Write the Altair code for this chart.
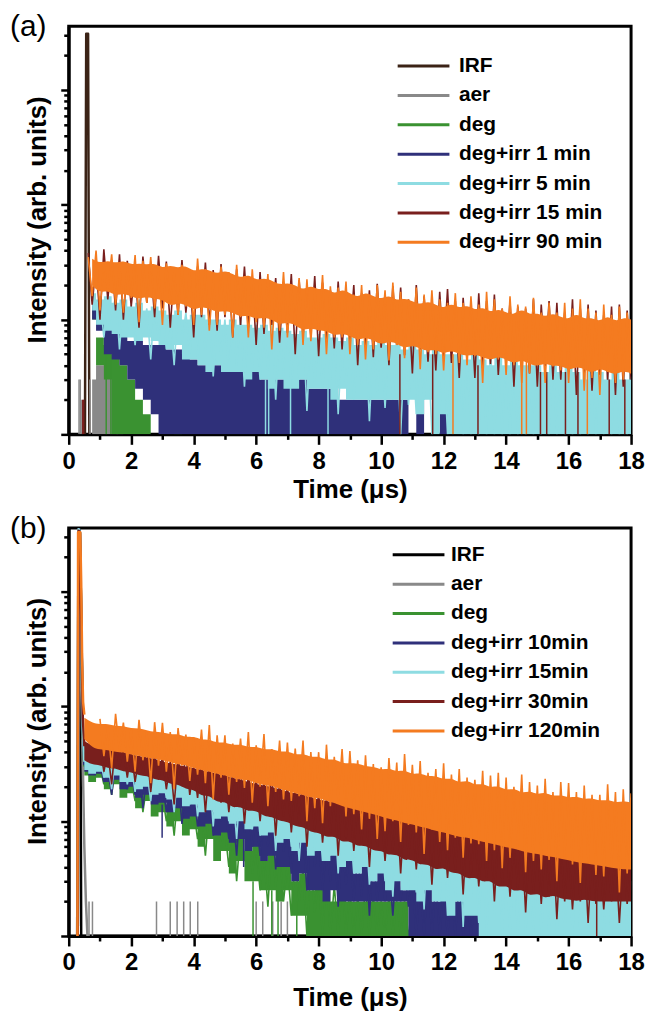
import altair as alt
import pandas as pd

# coarse time grid (µs) for the envelope bands
T = [0.5, 0.75, 1.0, 1.25, 1.5, 1.75, 2.0, 2.25, 2.5, 2.75,
     3.0, 3.25, 3.5, 3.75, 4.0, 4.25, 4.5, 4.75, 5.0, 5.25,
     5.5, 5.75, 6.0, 6.25, 6.5, 6.75, 7.0, 7.25, 7.5, 7.75,
     8.0, 8.25, 8.5, 8.75, 9.0, 9.25, 9.5, 9.75, 10.0, 10.25,
     10.5, 10.75, 11.0, 11.25, 11.5, 11.75, 12.0, 12.25, 12.5, 12.75,
     13.0, 13.25, 13.5, 13.75, 14.0, 14.25, 14.5, 14.75, 15.0, 15.25,
     15.5, 15.75, 16.0, 16.25, 16.5, 16.75, 17.0, 17.25, 17.5, 17.75,
     18.0]

# fine time grid (µs) for the noisy traces
T2 = [0.5, 0.625, 0.75, 0.875, 1.0, 1.125, 1.25, 1.375, 1.5, 1.625, 1.75, 1.875,
      2.0, 2.125, 2.25, 2.375, 2.5, 2.625, 2.75, 2.875, 3.0, 3.125, 3.25, 3.375,
      3.5, 3.625, 3.75, 3.875, 4.0, 4.125, 4.25, 4.375, 4.5, 4.625, 4.75, 4.875,
      5.0, 5.125, 5.25, 5.375, 5.5, 5.625, 5.75, 5.875, 6.0, 6.125, 6.25, 6.375,
      6.5, 6.625, 6.75, 6.875, 7.0, 7.125, 7.25, 7.375, 7.5, 7.625, 7.75, 7.875,
      8.0, 8.125, 8.25, 8.375, 8.5, 8.625, 8.75, 8.875, 9.0, 9.125, 9.25, 9.375,
      9.5, 9.625, 9.75, 9.875, 10.0, 10.125, 10.25, 10.375, 10.5, 10.625, 10.75, 10.875,
      11.0, 11.125, 11.25, 11.375, 11.5, 11.625, 11.75, 11.875, 12.0, 12.125, 12.25, 12.375,
      12.5, 12.625, 12.75, 12.875, 13.0, 13.125, 13.25, 13.375, 13.5, 13.625, 13.75, 13.875,
      14.0, 14.125, 14.25, 14.375, 14.5, 14.625, 14.75, 14.875, 15.0, 15.125, 15.25, 15.375,
      15.5, 15.625, 15.75, 15.875, 16.0, 16.125, 16.25, 16.375, 16.5, 16.625, 16.75, 16.875,
      17.0, 17.125, 17.25, 17.375, 17.5, 17.625, 17.75, 17.875, 18.0]

# ---------------- panel (a) ----------------
A_NAMES = ["IRF", "aer", "deg", "deg+irr 1 min", "deg+irr 5 min", "deg+irr 15 min", "deg+irr 90 min"]
A_COLORS = ["#3b2316", "#898989", "#3a9231", "#2f307a", "#8edce2", "#791f1d", "#f47b20"]

a_irf_t = [0.52, 0.56, 0.62, 0.66]
a_irf_v = [1, 3100, 3100, 1]

a_aer_start = 1
a_aer_hi = [3, 4, 4.5, 5, 2]
a_aer_lo = [1, 1, 1, 1, 1]

a_deg_start = 1
a_deg_hi = [13, 7, 6, 5, 4, 3, 2, 1.5, 1, 1, 1, 2, 1, 1, 1]
a_deg_lo = [10, 4, 3, 1, 1, 1, 1, 1, 1, 1, 1, 1, 1, 1, 1]

a_1_start = 1
a_1_hi = [14, 12, 12, 11, 8, 6.5, 6.5, 6, 6,
          6, 5.5, 5.5, 5, 4.5, 4, 4, 4, 4, 3.5,
          3.5, 3.5, 3.5, 3, 3, 3, 3, 3, 3, 2.5,
          2.5, 2.5, 2.5, 2, 2, 2, 2, 2, 2, 2,
          2, 2, 1, 2, 1, 1, 2, 1, 1, 2]
a_1_lo = [10, 8, 5, 4.5, 4, 3, 2.5, 2, 1.5,
          1, 1, 1, 1, 1, 1, 1, 1, 1, 1,
          1, 1, 1, 1, 1, 1, 1, 1, 1, 1,
          1, 1, 1, 1, 1, 1, 1, 1, 1, 1,
          1, 1, 1, 1, 1, 1, 1, 1, 1, 1]

a_5_start = 1
a_5_hi = [17, 15, 16, 14, 15, 13, 14, 12, 13,
          12, 11, 12, 10, 11, 11, 10, 10, 9, 10,
          9, 9, 8.5, 9, 8, 8.5, 8, 7.5, 8, 7,
          7, 7.5, 7, 6.5, 7, 6, 6.5, 6, 6.5, 6,
          6, 5.5, 6, 5.5, 5, 5.5, 5, 5, 5, 4.5,
          5, 4.5, 4, 5, 4, 4.5, 4, 4, 4, 3.5,
          4, 3.5, 4, 3.5, 3, 4, 3.5, 3, 3.5, 3,
          3]
a_5_lo = [12, 9, 8, 7.5, 7, 7, 6.5, 7, 6.5,
          6, 5.5, 6, 4.5, 4.5, 4, 3.5, 4, 3.5, 3.5,
          3.5, 3, 3.5, 3, 2.5, 3, 2.5, 2.5, 3, 2.5,
          2.5, 2.5, 2, 2.5, 2, 2, 2, 2, 2, 2,
          2, 2, 2, 1.5, 2, 1, 1.5, 1, 1, 1,
          1, 1, 1, 1, 1, 1, 1, 1, 1, 1,
          1, 1, 1, 1, 1, 1, 1, 1, 1, 1,
          1]

a_90_start = 1
a_90_hi = [34, 31, 33, 31, 33, 30, 31, 30, 31,
           28, 30, 28, 30, 26, 28, 27, 25, 27, 25,
           23, 25, 22, 23, 22, 20, 21, 20, 18, 20,
           18, 19, 16.5, 18.5, 17, 15.5, 17.5, 16, 15, 16.5,
           14.5, 15.5, 14.5, 13.5, 14.5, 13.5, 12.5, 14, 12.5, 13.5,
           12, 13, 11.5, 12.5, 11.5, 11, 12.5, 11, 11.5, 10.5,
           11.5, 10.5, 10, 11.5, 10, 10.5, 9.5, 11, 9.5, 10.5,
           10]
a_90_lo = [20, 17, 18, 16, 17, 16, 15, 16, 15,
           15, 13, 14, 13.5, 12, 13, 12.5, 11.5, 12, 11.5,
           10.5, 11, 10, 10.5, 10, 9, 9.5, 9, 8, 8.5,
           8, 8, 7.2, 7.6, 7.2, 6.6, 7, 6.6, 6, 6.5,
           6.2, 5.6, 6, 5.6, 5.3, 5.5, 5, 5.4, 5, 4.8,
           5, 4.7, 4.4, 4.8, 4.5, 4.1, 4.5, 4.1, 3.9, 4.2,
           3.9, 4, 3.6, 3.9, 3.7, 3.4, 3.8, 3.5, 3.3, 3.6,
           3.4]

# noisy traces on the fine grid (start index into T2)
a_5_zs = 4
a_5_z = [16, 7, 14, 9, 17, 5.5, 15, 8,
         13.5, 6, 15, 7.5, 12.5, 4.5, 14, 6.5,
         12, 5.5, 11, 4, 13, 6.5, 11.5, 5,
         11, 4.5, 9.5, 5.5, 12, 3.2, 10, 4.8,
         10, 3.5, 9, 4, 11, 2.6, 9.5, 3.8,
         9, 3, 8, 3.5, 10, 2, 8.5, 3.2,
         8.5, 2.6, 7.5, 3, 9, 1.6, 8, 2.8,
         7.5, 2.5, 7, 3, 8, 1.5, 7, 2.6,
         7, 2, 6.5, 2.5, 7.5, 1.3, 6.5, 2.2,
         6.5, 1.7, 6, 2, 7, 1, 6, 1.8,
         6, 1.5, 5.5, 2, 6.5, 1, 5.5, 1.6,
         5.5, 1, 5, 1.3, 6, 1, 5, 1,
         5, 1, 4.5, 1, 5.5, 1, 4.5, 1,
         4.5, 1, 4, 1, 5, 1, 4, 1,
         4.2, 1, 3.8, 1, 4.6, 1, 4, 1,
         4, 1, 3.6, 1, 4.4, 1, 3.8, 1,
         3.8, 1, 3.4, 1, 4, 1, 3.5, 1,
         3.2]
a_15_zs = 1
a_15_z = [38, 13.5, 31, 10, 41, 15, 33, 12,
          37, 10, 32.5, 13, 28, 8.5, 35.5, 14,
          29, 10.5, 36, 12.5, 32, 8.5, 27.5, 11,
          33, 11.5, 25, 7, 29, 10.5, 31.5, 9,
          27, 8, 30.5, 10.5, 24, 7, 27.5, 9,
          29, 8.5, 23, 6, 26, 7.5, 22, 9,
          23, 6.3, 20, 7.7, 25, 5, 22, 7.2,
          19.5, 7.2, 24, 4.8, 21, 6.4, 18, 5.6,
          21.5, 5.5, 18, 6.6, 20, 4, 17, 5.8,
          18, 4.7, 20.5, 5.7, 16, 4, 19.5, 6,
          19, 4.9, 15, 3.4, 20, 5.5, 16, 4.3,
          15, 3.6, 17.5, 4.8, 18.5, 4.2, 14.5, 3.1,
          15.5, 4.6, 14, 3.1, 17, 3.8, 14.5, 4.1,
          16.5, 3.3, 12.5, 4, 14.5, 2.6, 13, 4.2,
          12.5, 3.4, 15, 2.6, 13.5, 3.9, 14.5, 3,
          14, 3, 11.5, 3.6, 15, 2.2, 12.5, 3.4,
          13.5, 2.4, 12, 3.3, 11, 3, 13, 2.2,
          13.5, 2.6, 12, 3]
a_90_zs = 1
a_90_z = [35, 16, 40, 12, 31, 18, 37, 13.5,
          31, 11.5, 28.5, 15.5, 36.5, 9.5, 32.5, 14,
          35, 12.5, 28, 9, 31, 14, 26, 11,
          30, 13, 26, 9, 34, 11, 27.5, 8,
          23, 9, 29, 11, 26, 7, 30, 10.5,
          24, 7, 27.5, 9.5, 21.5, 8.5, 25, 5.5,
          21, 8, 26, 7, 20, 9, 23, 6,
          22.5, 6.5, 18.5, 8, 24.5, 5, 19.5, 7,
          19, 7, 21.5, 5, 16.5, 6, 20, 4.5,
          16, 5.5, 20, 6.5, 18, 4.4, 21, 6,
          17.5, 4.6, 15, 6, 19, 3.7, 16.5, 5.2,
          18, 5, 15, 3.6, 14, 5.5, 17, 4.2,
          14, 4, 16, 4.8, 13.5, 2.8, 17.5, 4.6,
          15, 4.5, 12.5, 3.3, 16, 4, 13.5, 2.8,
          13, 3.4, 15.5, 4.3, 11.5, 2.8, 14, 3.9,
          11.5, 3.6, 14, 2.8, 12.5, 4, 15, 2.4,
          12.5, 3.1, 11.5, 2.2, 13.5, 3.5, 11, 2.8,
          13, 3, 11.5, 3.4]

# isolated single-channel spikes: (time, bottom, top)
a_spk_aer = [(0.33, 1, 3), (0.37, 1, 3), (0.42, 1, 2), (0.68, 1, 3), (1.55, 1, 3)]
a_spk_deg = [(1.2, 1, 6), (1.35, 1, 5)]
a_spk_5 = [(6.3, 1, 3), (6.4, 1, 3), (7.1, 1, 3), (8.3, 1, 3)]
a_spk_15 = [(0.45, 1, 2), (0.48, 1, 2), (10.6, 1, 5), (11.65, 1, 5),
            (13.1, 1, 4), (15.1, 1, 3.5), (15.3, 1, 3.5), (15.9, 1, 3.5),
            (16.3, 1, 3.5), (17.3, 1, 3), (17.8, 1, 3)]
a_spk_90 = [(12.3, 1, 5), (14.5, 1, 4.5), (14.65, 1, 4.5), (16.6, 1, 4)]

# ---------------- panel (b) ----------------
B_NAMES = ["IRF", "aer", "deg", "deg+irr 10min", "deg+irr 15min", "deg+irr 30min", "deg+irr 120min"]
B_COLORS = ["#000000", "#898989", "#3a9231", "#2f307a", "#8edce2", "#791f1d", "#f47b20"]

b_irf_t = [0.27, 0.31, 0.36, 0.40, 18.0]
b_irf_v = [1, 3000, 2500, 1, 1]
b_aer_t = [0.28, 0.31, 0.36, 0.39, 0.44, 0.50, 0.55, 0.60]
b_aer_v = [1, 3000, 2800, 200, 46, 6, 2, 1]
b_deg_pt = [0.29, 0.32, 0.36, 0.41, 0.45, 0.5]
b_deg_pv = [1, 3600, 3300, 400, 60, 30]
b_10_pt = [0.29, 0.32, 0.36, 0.41, 0.45, 0.5]
b_10_pv = [1, 3600, 3300, 380, 62, 31]
b_15_pt = [0.29, 0.32, 0.36, 0.41, 0.45, 0.5]
b_15_pv = [1, 3500, 3200, 400, 65, 33]
b_30_pt = [0.29, 0.32, 0.36, 0.41, 0.45, 0.5]
b_30_pv = [1, 3400, 3200, 420, 80, 45]
b_120_pt = [0.28, 0.30, 0.37, 0.40, 0.43, 0.46, 0.5]
b_120_pv = [1, 3300, 3300, 1200, 250, 110, 85]

b_deg_start = 0
b_deg_hi = [33, 29, 31, 26, 28, 23, 24, 19, 21, 16,
            18, 14, 15.5, 12, 13, 10, 11, 8.5, 9, 7,
            7.5, 5.5, 6.5, 4.5, 5.5, 4, 4.5, 3, 3.5, 2.5,
            3, 2.5, 2, 2.5, 2, 2, 2, 2, 2, 2,
            2, 2, 1, 2]
b_deg_lo = [25, 22, 24, 19, 21, 16, 17.5, 13, 15, 11,
            12, 9, 10, 7.5, 8.5, 6, 7, 4.5, 5.5, 3.5,
            4.5, 3, 3, 2.5, 2.5, 2, 2.5, 1.5, 1.5, 1,
            1, 1, 1, 1, 1, 1, 1, 1, 1, 1,
            1, 1, 1, 1]

b_10_start = 0
b_10_hi = [34, 31, 33, 29, 31, 26, 27, 23, 23, 20,
           21, 17, 19, 15, 17, 13.5, 14.5, 12, 13, 10,
           11.5, 9.5, 10, 8, 9, 7, 8, 6, 7, 5.5,
           6.5, 5, 5.5, 4.5, 5, 3.5, 4.5, 3, 4, 3,
           3.5, 2.5, 3, 2.5, 3, 2, 2.5, 2, 2, 2,
           2, 2, 2, 2, 2, 1, 2, 1, 1, 2,
           1, 1, 2, 1, 1, 1, 1, 2, 1, 1]
b_10_lo = [27, 25, 26, 22, 23, 19, 20, 16, 17, 14,
           14.5, 12, 13, 10.5, 11, 9, 9.5, 7.5, 8, 6.5,
           7, 5.5, 6, 4.5, 5, 4, 4, 3, 3.5, 2.5,
           2.5, 2, 2.5, 2, 2, 2, 2, 2, 2, 2,
           2, 2, 1, 1, 1, 1, 1, 1, 1, 1,
           1, 1, 1, 1, 1, 1, 1, 1, 1, 1,
           1, 1, 1, 1, 1, 1, 1, 1, 1, 1]

b_15_start = 0
b_15_hi = [37, 33, 35, 31, 33, 28, 30, 26, 28, 24,
           26, 23, 25, 21, 23, 19, 21, 17.5, 19.5, 16,
           17.5, 15, 16, 14, 14.5, 12.5, 13.5, 11.5, 12.5, 10.5,
           11.5, 10, 11, 9, 10, 8.5, 9.5, 8, 8.5, 7,
           8, 6.5, 7.5, 6, 6.5, 5.5, 6.5, 5, 5.5, 4.5,
           5.5, 4.5, 5, 4, 4.5, 4, 4.5, 3.5, 4, 3.5,
           4, 3, 4, 3.5, 3.5, 3, 3.5, 3, 3.5, 3,
           3]
b_15_lo = [28, 26, 27, 24, 25, 22, 22, 19, 20, 17,
           17.5, 15.5, 16, 13.5, 14, 12, 12.5, 10.5, 11, 9.5,
           10, 8.5, 9, 7.5, 8, 6.5, 7, 5.5, 6.5, 5,
           5.5, 4.5, 5, 4, 4.5, 3.5, 4, 3, 3.5, 2.5,
           3, 2.5, 2.5, 2, 2.5, 2, 2, 1.5, 2, 1.5,
           1.5, 1, 1, 1, 1, 1, 1, 1, 1, 1,
           1, 1, 1, 1, 1, 1, 1, 1, 1, 1,
           1]

b_30_start = 0
b_30_hi = [50, 46, 44, 42, 41, 40, 38, 37, 36, 35,
           33, 32, 31, 30, 29, 28, 27, 26, 25, 24,
           23, 22, 21, 20.5, 20, 19, 18, 17.5, 17, 16,
           15.5, 15, 14.5, 14, 13.5, 13, 12.5, 12, 11.5, 11,
           10.5, 10, 9.8, 9.5, 9.2, 9, 8.6, 8.3, 8, 7.7,
           7.4, 7.1, 6.9, 6.6, 6.4, 6.2, 6, 5.8, 5.6, 5.5,
           5.4, 5.2, 5.1, 5, 4.9, 4.8, 4.7, 4.6, 4.5, 4.4,
           4.3]
b_30_lo = [34, 31, 31, 29, 29, 27, 27, 25, 25, 23,
           23, 21, 21, 19, 19, 16.5, 17, 14.5, 15, 13,
           13.5, 12, 12.5, 11, 11, 10, 10, 9, 9, 8,
           8, 7.2, 7.5, 6.5, 6.8, 6, 6.2, 5.5, 5.6, 5,
           5.2, 4.5, 4.7, 4.1, 4.3, 3.7, 4, 3.5, 3.6, 3.1,
           3.3, 2.9, 3.1, 2.6, 2.8, 2.4, 2.6, 2.2, 2.4, 2.1,
           2.3, 2.1, 2.1, 2, 2.1, 2, 2, 2, 2, 2,
           2]

b_120_start = 0
b_120_hi = [80, 72, 70, 71, 67, 68, 64, 65, 62, 60,
            60, 57, 58, 54, 55, 51, 52, 48, 49, 46,
            47, 44, 45, 42, 43, 40, 41, 38, 39, 36,
            37, 34, 35, 32, 32, 32, 30, 30, 28, 29,
            27, 28, 25.5, 26.5, 24.5, 25, 23, 24, 21.5, 23,
            20.5, 21.5, 19.5, 20.5, 18.5, 19.5, 17.5, 18.5, 17, 18,
            16.5, 17, 16, 16.5, 15.5, 16, 15, 15.5, 14.5, 15,
            14.5]
b_120_lo = [52, 44, 42, 42, 40, 40, 38, 37, 36, 35,
            34, 33, 31, 31, 29, 28, 27, 26, 25, 24,
            23, 23, 21.5, 20.5, 20.5, 19, 18.5, 17.5, 17, 16,
            16, 15, 14.5, 13.5, 13, 12.5, 12, 11.5, 11, 10.5,
            10.2, 9.6, 9.4, 8.9, 8.7, 8.2, 8, 7.6, 7.3, 7.2,
            6.9, 6.6, 6.4, 6.2, 5.9, 5.8, 5.5, 5.3, 5.2, 5,
            4.9, 4.7, 4.6, 4.4, 4.3, 4.2, 4.1, 4, 3.9, 3.8,
            3.8]

b_deg_zs = 4
b_deg_z = [30, 21, 27, 17, 32, 23, 28, 19,
           23, 15, 25, 12, 21, 16.5, 23, 13,
           17, 10, 15.5, 7.5, 18, 11, 16, 9,
           12.5, 7, 11.5, 5, 13.5, 7.5, 12, 6,
           8.5, 4, 9, 3, 8, 4.5, 9.5, 3.5,
           6, 2.5, 5.2, 1.8, 6.5, 2.7, 5.5, 2,
           4.2, 1.5, 4.8, 2, 3.8, 1, 4.4, 1.6,
           3.2, 1, 3.5, 1, 2.8, 1, 3, 1,
           2.5, 1, 2.2, 1, 2.8, 1, 2.2, 1,
           2, 1, 2.2, 1, 2, 1, 2, 1,
           1.5]
b_10_zs = 4
b_10_z = [32, 22, 29, 17, 34, 24, 30, 19,
          27, 17, 29, 13, 25, 19, 28, 15,
          22, 12, 20, 15, 24, 9.5, 21, 13,
          18, 9, 16, 11, 19.5, 7.5, 17, 10,
          14, 7, 12.5, 5, 15, 8, 13, 6,
          11, 5, 9.5, 6, 12, 3.8, 10, 5.5,
          8.5, 3.5, 9.5, 4.5, 8, 2.5, 8.8, 4,
          7, 2.5, 6.2, 3, 7.5, 1.8, 6.5, 2.8,
          5.5, 2, 5, 2.2, 6, 1.5, 5.2, 2,
          4.2, 2, 4, 1.5, 4.8, 2, 4, 1.8,
          3.2, 1, 3, 1, 3.6, 1, 3, 1,
          2.6, 1, 2.4, 1, 3, 1, 2.5, 1,
          2]
b_15_zs = 4
b_15_z = [36, 24, 33, 19, 38, 26, 34, 21,
          31, 18, 34, 22, 28, 15, 32, 20,
          27, 16, 24, 12, 29, 17, 26, 14,
          24, 11, 22, 14, 26, 9, 23, 12.5,
          21, 10, 18.5, 7, 22, 11, 19.5, 8.5,
          17, 7.5, 15, 9, 18.5, 5.5, 16, 8,
          14, 6, 15.5, 4.5, 13, 7, 14.5, 5.5,
          12, 4.5, 11, 5.5, 13, 3.5, 11.5, 5,
          10.5, 3.5, 11.5, 4.5, 9.5, 2.8, 10, 4,
          9, 3, 8, 2.2, 9.5, 3.5, 8.5, 2.6,
          7.8, 2.4, 7, 1.7, 8.5, 2.8, 7.5, 2,
          7, 1.5, 6.2, 2.2, 7.4, 1.2, 6.5, 2,
          5.8, 1.3, 5.2, 1, 6.2, 1.5, 5.5, 1,
          4.8, 1, 4.4, 1, 5.2, 1, 4.5, 1,
          4.2, 1, 3.8, 1, 4.6, 1, 4, 1,
          4, 1, 3.6, 1, 4.4, 1, 3.8, 1,
          3.6, 1, 3.2, 1, 4, 1, 3.4, 1,
          3]
b_30_zs = 4
b_30_z = [46, 27, 40, 21, 49, 30, 42, 24,
          41, 22, 37, 26, 44, 18, 39, 23,
          37, 19, 33, 14, 36, 21, 39, 17,
          30, 16, 34, 12, 31, 17.5, 28, 14.5,
          28, 12, 25, 14, 29.5, 9.5, 26, 13,
          24, 10, 22, 12, 25.5, 7.5, 23, 11,
          21, 8, 19, 9.5, 22, 6, 20, 8.5,
          17.5, 6.5, 16, 8, 19, 5, 17, 7,
          15, 5.5, 14, 6.5, 16, 4, 14.5, 6,
          13, 4.5, 12, 5.5, 13.5, 3.5, 12.5, 5,
          11, 3.8, 10, 4.5, 11.5, 2.8, 10.5, 4,
          9.5, 3.2, 8.5, 3.8, 10, 2.3, 9, 3.4,
          8.2, 2.7, 7.6, 3.2, 8.8, 2, 8, 2.9,
          7.2, 2.2, 6.6, 2.6, 7.5, 1.6, 7, 2.4,
          6.4, 1.9, 6, 2.2, 6.8, 1.4, 6.2, 2,
          5.8, 1.7, 5.4, 2, 6, 1.3, 5.6, 1.9,
          5.2, 1.7, 4.8, 2, 5.4, 1.3, 5, 1.9,
          4.8]
b_120_zs = 4
b_120_z = [78, 37, 67.5, 29, 86.5, 41, 72.5, 33,
           65, 27, 76.5, 34, 60.5, 21.5, 73, 30.5,
           72, 27, 60, 19, 65, 30.5, 57, 22.5,
           53.5, 25.5, 63, 21.5, 69, 15.5, 56, 24,
           56, 17, 47.5, 22, 52.5, 19.5, 60, 14.5,
           46, 20, 57.5, 13.5, 42.5, 18, 50.5, 15.5,
           48.5, 15, 43, 16.5, 50.5, 10, 40, 13,
           40, 9.6, 46.5, 13.5, 36.5, 15, 42.5, 11,
           41, 11.5, 34, 8.5, 37.5, 10.5, 31.5, 7,
           29.5, 8.2, 35.5, 10, 32.5, 6.6, 38.5, 9.3,
           31, 8, 33.5, 5.2, 26.5, 8.5, 28.5, 6.6,
           32, 5.6, 25.5, 7.2, 28.5, 4.8, 24, 6.4,
           23, 6.3, 27.5, 4.5, 25, 5.6, 26.5, 3.9,
           24, 4.8, 20, 5.7, 25.5, 3.6, 22, 4.5,
           20.5, 3.8, 23.5, 4.6, 18, 3, 22, 4.9,
           21.5, 4.2, 18, 2.9, 20.5, 4.4, 17, 3.4,
           17, 3.3, 21, 4, 18, 2.4, 19, 3.5,
           17.5]

b_spk_aer = [(0.65, 1, 2), (0.76, 1, 2), (2.81, 1, 2), (3.25, 1, 2), (3.47, 1, 2),
             (3.68, 1, 2), (3.89, 1, 2), (4.13, 1, 2), (6.0, 1, 2), (6.21, 1, 2),
             (6.53, 1, 2), (6.8, 1, 2), (7.0, 1, 2)]
b_spk_deg = [(5.9, 1, 3), (6.5, 1, 2.5), (6.7, 1, 2.5), (7.3, 1, 2)]
b_spk_10 = [(2.99, 7.2, 14), (5.6, 4, 7)]
b_spk_30 = [(15.75, 8, 19), (16.9, 1, 2.5)]


def band_df(name, start, hi, lo):
    assert len(hi) == len(lo), name
    return pd.DataFrame({"series": name, "t": T[start:start + len(hi)], "hi": hi, "lo": lo})


def line_df(name, ts, vs):
    return pd.DataFrame({"series": name, "t": ts, "v": vs})


def trace_df(name, start, vals):
    assert start + len(vals) <= len(T2), name
    return pd.DataFrame({"series": name, "t": T2[start:start + len(vals)], "v": vals})


def spike_df(name, spikes):
    return pd.DataFrame({"series": name, "t": [s[0] for s in spikes],
                         "lo": [s[1] for s in spikes], "hi": [s[2] for s in spikes]})


FONT = "Liberation Sans"
MAJOR_Y = "datum.value === 1 || datum.value === 10 || datum.value === 100 || datum.value === 1000"
Y_TICKS = [1, 2, 3, 4, 5, 6, 7, 8, 9, 10, 20, 30, 40, 50, 60, 70, 80, 90,
           100, 200, 300, 400, 500, 600, 700, 800, 900, 1000, 2000, 3000]
PW, PH = 565, 410


def make_panel(tag, names, colors, lines, bands, interp, traces, spikes,
               legend_x, legend_y, label_offset, x_title_pad):
    legend = alt.Legend(orient="none", legendX=legend_x, legendY=legend_y, title=None,
                        symbolType="stroke", symbolSize=2704, symbolStrokeWidth=3,
                        clipHeight=21, rowPadding=7.5, padding=0,
                        labelFont=FONT, labelFontSize=21, labelFontWeight="bold",
                        labelColor="black", labelOffset=label_offset)
    color = alt.Color("series:N", scale=alt.Scale(domain=names, range=colors), legend=legend, title=None)
    x_axis = alt.Axis(values=list(range(0, 19)), format="d",
                      tickSize={"condition": {"test": "datum.value % 2 === 1", "value": 5}, "value": 10},
                      labelExpr="datum.value % 2 === 0 ? datum.label : ''",
                      labelPadding=5, titlePadding=x_title_pad, labelFlush=False, labelOverlap=False)
    y_axis = alt.Axis(values=Y_TICKS, labels=False,
                      tickSize={"condition": {"test": MAJOR_Y, "value": 8}, "value": 5},
                      titlePadding=9, titleY=194)
    xs = alt.Scale(domain=[0, 18], nice=False)
    ys = alt.Scale(type="log", domain=[1, 3600], nice=False)
    X = alt.X("t:Q", scale=xs, axis=x_axis, title="Time (μs)")

    def Y(field):
        return alt.Y(field, scale=ys, axis=y_axis, title="Intensity (arb. units)")

    layers = []
    for name in names:
        if name in lines:
            layers.append(alt.Chart(lines[name]).mark_line(strokeWidth=2.5, clip=True, strokeJoin="round").encode(
                x=X, y=Y("v:Q"), color=color))
        if name in bands:
            layers.append(alt.Chart(bands[name]).mark_area(interpolate=interp[name], clip=True, opacity=1).encode(
                x=X, y=Y("hi:Q"), y2="lo:Q", color=color))
        if name in traces:
            layers.append(alt.Chart(traces[name]).mark_line(strokeWidth=1.6, clip=True, strokeJoin="bevel").encode(
                x=X, y=Y("v:Q"), color=color))
        if name in spikes:
            layers.append(alt.Chart(spikes[name]).mark_rule(strokeWidth=1.5, clip=True).encode(
                x=X, y=Y("lo:Q"), y2="hi:Q", color=color))
    layers.append(alt.Chart(pd.DataFrame({"lab": [tag]})).mark_text(
        align="left", baseline="alphabetic", font=FONT, fontSize=30, color="black").encode(
        x=alt.value(-59), y=alt.value(10), text="lab:N"))
    return alt.layer(*layers).properties(width=PW, height=PH)


a_lines = {"IRF": line_df("IRF", a_irf_t, a_irf_v)}
a_bands = {
    "aer": band_df("aer", a_aer_start, a_aer_hi, a_aer_lo),
    "deg": band_df("deg", a_deg_start, a_deg_hi, a_deg_lo),
    "deg+irr 1 min": band_df("deg+irr 1 min", a_1_start, a_1_hi, a_1_lo),
    "deg+irr 5 min": band_df("deg+irr 5 min", a_5_start, a_5_hi, a_5_lo),
    "deg+irr 90 min": band_df("deg+irr 90 min", a_90_start, a_90_hi, a_90_lo),
}
a_interp = {"aer": "step", "deg": "step", "deg+irr 1 min": "step", "deg+irr 5 min": "step",
            "deg+irr 90 min": "basis"}
a_traces = {
    "deg+irr 5 min": trace_df("deg+irr 5 min", a_5_zs, a_5_z),
    "deg+irr 15 min": trace_df("deg+irr 15 min", a_15_zs, a_15_z),
    "deg+irr 90 min": trace_df("deg+irr 90 min", a_90_zs, a_90_z),
}
a_spikes = {
    "aer": spike_df("aer", a_spk_aer),
    "deg": spike_df("deg", a_spk_deg),
    "deg+irr 5 min": spike_df("deg+irr 5 min", a_spk_5),
    "deg+irr 15 min": spike_df("deg+irr 15 min", a_spk_15),
    "deg+irr 90 min": spike_df("deg+irr 90 min", a_spk_90),
}

b_lines = {
    "IRF": line_df("IRF", b_irf_t, b_irf_v),
    "aer": line_df("aer", b_aer_t, b_aer_v),
    "deg": line_df("deg", b_deg_pt, b_deg_pv),
    "deg+irr 10min": line_df("deg+irr 10min", b_10_pt, b_10_pv),
    "deg+irr 15min": line_df("deg+irr 15min", b_15_pt, b_15_pv),
    "deg+irr 30min": line_df("deg+irr 30min", b_30_pt, b_30_pv),
    "deg+irr 120min": line_df("deg+irr 120min", b_120_pt, b_120_pv),
}
b_bands = {
    "deg": band_df("deg", b_deg_start, b_deg_hi, b_deg_lo),
    "deg+irr 10min": band_df("deg+irr 10min", b_10_start, b_10_hi, b_10_lo),
    "deg+irr 15min": band_df("deg+irr 15min", b_15_start, b_15_hi, b_15_lo),
    "deg+irr 30min": band_df("deg+irr 30min", b_30_start, b_30_hi, b_30_lo),
    "deg+irr 120min": band_df("deg+irr 120min", b_120_start, b_120_hi, b_120_lo),
}
b_interp = {"deg": "step", "deg+irr 10min": "step", "deg+irr 15min": "step",
            "deg+irr 30min": "basis", "deg+irr 120min": "basis"}
b_traces = {
    "deg": trace_df("deg", b_deg_zs, b_deg_z),
    "deg+irr 10min": trace_df("deg+irr 10min", b_10_zs, b_10_z),
    "deg+irr 15min": trace_df("deg+irr 15min", b_15_zs, b_15_z),
    "deg+irr 30min": trace_df("deg+irr 30min", b_30_zs, b_30_z),
    "deg+irr 120min": trace_df("deg+irr 120min", b_120_zs, b_120_z),
}
b_spikes = {
    "aer": spike_df("aer", b_spk_aer),
    "deg": spike_df("deg", b_spk_deg),
    "deg+irr 10min": spike_df("deg+irr 10min", b_spk_10),
    "deg+irr 30min": spike_df("deg+irr 30min", b_spk_30),
}

panel_a = make_panel("(a)", A_NAMES, A_COLORS, a_lines, a_bands, a_interp, a_traces, a_spikes, 329, 29.5, 8, 3)
panel_b = make_panel("(b)", B_NAMES, B_COLORS, b_lines, b_bands, b_interp, b_traces, b_spikes, 324, 16.5, 5, 10)

chart = alt.vconcat(panel_a, panel_b, spacing=8).resolve_scale(color="independent").properties(padding=0)
chart = chart.configure_view(stroke="black", strokeWidth=3).configure_axis(
    domainColor="black", domainWidth=3, tickColor="black", tickWidth=2.5, grid=False,
    labelFont=FONT, labelFontSize=24, labelFontWeight="bold", labelColor="black",
    titleFont=FONT, titleFontSize=26, titleFontWeight="bold", titleColor="black")

chart.save("out.html", embed_options={"renderer": "svg", "actions": False})
